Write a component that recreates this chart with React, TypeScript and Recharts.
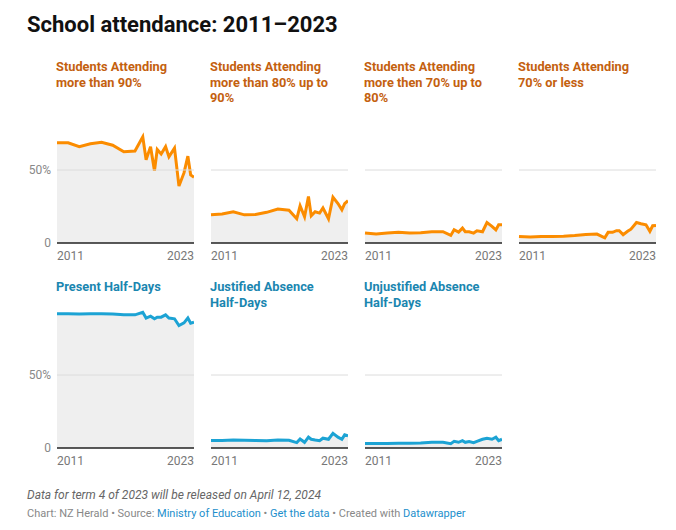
import { AreaChart, Area, XAxis, YAxis, ReferenceLine } from "recharts";

// decimal year of each reading (annual term 2 until 2018, then termly)
const periods = [
  2011.3, 2012.3, 2013.3, 2014.3, 2015.3, 2016.3, 2017.3, 2018.3, 2019.0, 2019.3,
  2019.7, 2020.05, 2020.3, 2020.65, 2021.05, 2021.35, 2021.85, 2022.25, 2022.7,
  2023.05, 2023.3, 2023.6,
];
const xTickLabels = ["2011", "2023"];
const yTicks = [0, 50];

const over90 = [68.6, 68.6, 66, 68, 69, 67, 62.5, 63, 72.7, 57, 66, 49.5, 64, 61, 66, 59, 65, 39, 48, 59.5, 46.6, 45];
const from80to90 = [19.3, 19.8, 21.4, 19.3, 19.5, 21, 23.2, 22.5, 16.6, 25.5, 18, 31.8, 18.6, 21.4, 20.5, 24, 16.6, 31.4, 27, 22.7, 27, 29];
const from70to80 = [6.8, 6.1, 6.8, 7.3, 6.8, 7, 7.7, 7.7, 5.2, 9.1, 7.5, 10.2, 7.7, 7.7, 6.8, 8.4, 7.7, 14, 11.4, 9, 12.5, 12.5];
const under70 = [4.5, 4.1, 4.5, 4.5, 4.7, 5.2, 5.9, 6.1, 3.6, 7.3, 7.3, 8.4, 8.4, 5.7, 8, 9.5, 14, 13.2, 12.5, 8, 11.8, 12];
const presentHalfDays = [92, 92, 91.8, 92, 92, 91.7, 91.2, 91.2, 93, 89, 90.3, 88.5, 89.6, 89.6, 91.2, 89, 88.5, 83.9, 85.7, 89, 85.5, 86.2];
const justifiedHalfDays = [5.1, 5.2, 5.5, 5.3, 5.2, 5, 5.5, 5.3, 3.7, 6.2, 3.9, 7.4, 6, 5.5, 5, 6.7, 6, 10, 7.4, 6, 9, 8.3];
const unjustifiedHalfDays = [3, 3, 3.1, 3.2, 3.3, 3.5, 3.9, 3.9, 3, 4.6, 3.9, 5, 3.9, 4.4, 3.7, 4.6, 6, 6.7, 6, 7.4, 5, 6];

const ORANGE = "#fb8c00";
const ORANGE_TITLE = "#c4610f";
const BLUE = "#1ca3d4";
const BLUE_TITLE = "#1a86b0";
const FONT = "Roboto, sans-serif";

const panels = [
  { title: ["Students Attending", "more than 90%"], values: over90, color: ORANGE, titleColor: ORANGE_TITLE, row: 0, col: 0 },
  { title: ["Students Attending", "more than 80% up to", "90%"], values: from80to90, color: ORANGE, titleColor: ORANGE_TITLE, row: 0, col: 1 },
  { title: ["Students Attending", "more then 70% up to", "80%"], values: from70to80, color: ORANGE, titleColor: ORANGE_TITLE, row: 0, col: 2 },
  { title: ["Students Attending", "70% or less"], values: under70, color: ORANGE, titleColor: ORANGE_TITLE, row: 0, col: 3 },
  { title: ["Present Half-Days"], values: presentHalfDays, color: BLUE, titleColor: BLUE_TITLE, row: 1, col: 0 },
  { title: ["Justified Absence", "Half-Days"], values: justifiedHalfDays, color: BLUE, titleColor: BLUE_TITLE, row: 1, col: 1 },
  { title: ["Unjustified Absence", "Half-Days"], values: unjustifiedHalfDays, color: BLUE, titleColor: BLUE_TITLE, row: 1, col: 2 },
];

const colLeft = [57, 211, 365, 519];
const rowTop = [97, 302]; // y of 100%
const titleTop = [59, 279];
const PLOT_W = 137;
const PLOT_H = 146;
const PAD_L = 45;

const XTick = ({ x, y, payload, index }: any) => (
  <text
    x={x}
    y={y}
    dy="0.71em"
    textAnchor={index === 0 ? "start" : "end"}
    fill="#777"
    fontSize={12}
    fontFamily={FONT}
  >
    {xTickLabels[index] ?? payload.value}
  </text>
);

const Panel = ({ p }: { p: (typeof panels)[number] }) => {
  const data = periods.map((x, i) => ({ x, v: p.values[i] }));
  const showY = p.col === 0;
  return (
    <>
      <div
        style={{
          position: "absolute",
          left: colLeft[p.col] - 1,
          top: titleTop[p.row],
          zIndex: 2,
          color: p.titleColor,
          fontWeight: 700,
          fontSize: 12.8,
          lineHeight: "15.5px",
          fontFamily: FONT,
          whiteSpace: "nowrap",
        }}
      >
        {p.title.map((t, i) => (
          <div key={i}>{t}</div>
        ))}
      </div>
      <div style={{ position: "absolute", left: colLeft[p.col] - PAD_L, top: rowTop[p.row] }}>
        <AreaChart
          width={PLOT_W + PAD_L}
          height={PLOT_H + 22}
          data={data}
          margin={{ top: 0, right: 0, bottom: 0, left: showY ? 5 : PAD_L }}
        >
          <XAxis
            dataKey="x"
            type="number"
            domain={["dataMin", "dataMax"]}
            ticks={[periods[0], periods[periods.length - 1]]}
            tick={<XTick />}
            tickLine={false}
            axisLine={false}
            height={22}
            interval={0}
          />
          <YAxis
            hide={!showY}
            width={40}
            domain={[0, 100]}
            ticks={yTicks}
            tickFormatter={(v: number) => (v === 0 ? "0" : `${v}%`)}
            tick={{ fill: "#888", fontSize: 12, fontFamily: FONT }}
            tickLine={false}
            axisLine={false}
            tickSize={4}
            tickMargin={2}
          />
          <Area
            type="linear"
            dataKey="v"
            stroke={p.color}
            strokeWidth={3}
            fill="#efefef"
            fillOpacity={1}
            dot={false}
            activeDot={false}
            isAnimationActive={false}
          />
          <ReferenceLine y={50} stroke="#dcdcdc" strokeWidth={1} />
          <ReferenceLine y={0} stroke="#222" strokeWidth={1.5} />
        </AreaChart>
      </div>
    </>
  );
};

export default function App() {
  return (
    <div
      style={{
        position: "absolute",
        left: 0,
        top: 0,
        width: 676,
        height: 530,
        background: "#fff",
        fontFamily: FONT,
        overflow: "hidden",
      }}
    >
      <div
        style={{
          position: "absolute",
          left: 27,
          top: 12,
          fontSize: 22,
          fontWeight: 700,
          color: "#111",
        }}
      >
        School attendance: 2011–2023
      </div>
      {panels.map((p, i) => (
        <Panel key={i} p={p} />
      ))}
      <div
        style={{
          position: "absolute",
          left: 27,
          top: 488,
          fontSize: 12,
          fontStyle: "italic",
          color: "#666",
        }}
      >
        Data for term 4 of 2023 will be released on April 12, 2024
      </div>
      <div
        style={{
          position: "absolute",
          left: 27,
          top: 507,
          fontSize: 11,
          color: "#888",
        }}
      >
        Chart: NZ Herald • Source: <span style={{ color: "#1d8fcc" }}>Ministry of Education</span> •{" "}
        <span style={{ color: "#1d8fcc" }}>Get the data</span> • Created with{" "}
        <span style={{ color: "#1d8fcc" }}>Datawrapper</span>
      </div>
    </div>
  );
}
